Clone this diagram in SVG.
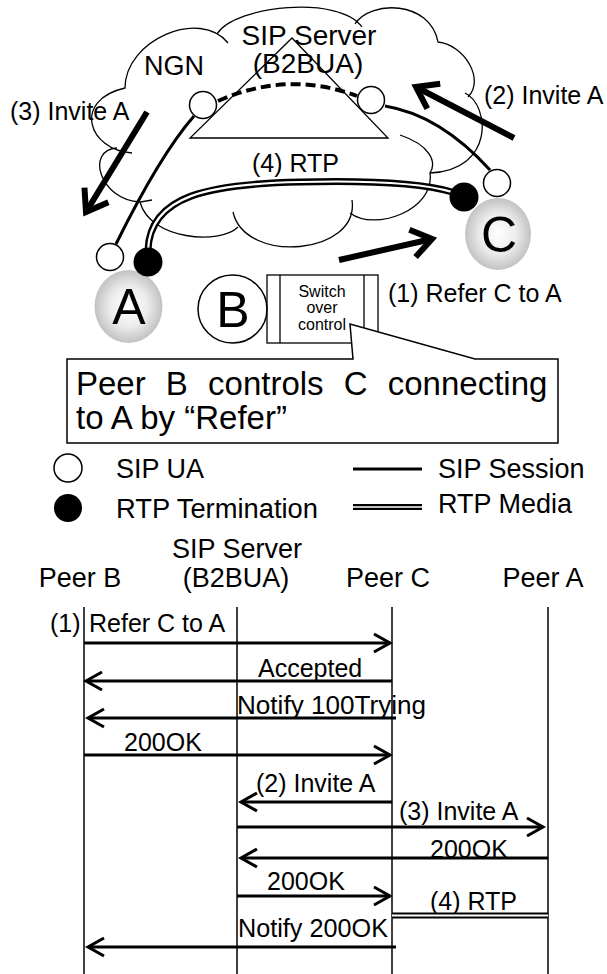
<svg xmlns="http://www.w3.org/2000/svg" width="607" height="974" viewBox="0 0 607 974">
<defs>
<style>
text{font-family:"Liberation Sans",Arial,sans-serif;fill:#000}
.t25{font-size:25px}
.t27{font-size:27px}
.t28{font-size:28px}
.t16{font-size:16px;text-anchor:middle}
.big{font-size:50px;text-anchor:middle}
.mid{text-anchor:middle}
.thin{fill:none;stroke:#000;stroke-width:1.3}
.sip{fill:none;stroke:#000;stroke-width:3}
.ua{fill:#fff;stroke:#000;stroke-width:1.5}
.rtp{fill:#000}
.life{stroke:#000;stroke-width:1.5}
.msg{fill:none;stroke:#000;stroke-width:3;marker-end:url(#ha)}
.bigarrow{fill:none;stroke:#000;stroke-width:6;marker-end:url(#hb)}
.dblo{fill:none;stroke:#000;stroke-width:7}
.dbli{fill:none;stroke:#fff;stroke-width:2.2}
.sph{fill:url(#sph)}
</style>
<radialGradient id="sph" cx="50%" cy="50%" r="50%">
<stop offset="0" stop-color="#ffffff"/>
<stop offset="0.55" stop-color="#ececec"/>
<stop offset="1" stop-color="#c2c2c2"/>
</radialGradient>
<marker id="ha" markerUnits="userSpaceOnUse" viewBox="-20 -12 22 24" refX="0" refY="0" markerWidth="22" markerHeight="24" orient="auto" overflow="visible">
<path d="M-16,-9 L0,0 L-16,9" fill="none" stroke="#000" stroke-width="3"/>
</marker>
<marker id="hb" markerUnits="userSpaceOnUse" viewBox="-26 -18 30 36" refX="0" refY="0" markerWidth="30" markerHeight="36" orient="auto" overflow="visible">
<path d="M-20,-14 L0,0 L-20,14" fill="none" stroke="#000" stroke-width="6"/>
</marker>
</defs>
<rect width="607" height="974" fill="#fff"/>

<g id="ngn-cloud">
<path class="thin" d="M132,153 C88,150 72,100 125,88 C125,40 200,8 228,43 M217,34 C235,5 340,-5 362,27 M355,24 C370,0 430,0 438,42 C465,45 485,80 468,97 M465,93 C490,105 495,170 430,173 C435,210 375,232 350,213 M400,135 C430,145 437,162 430,173 M352,200 C360,255 245,265 233,212 M238,227 C220,245 150,240 140,202 L152,200 M140,202 C100,200 85,150 117,148"/>
<text class="t27" x="144" y="75">NGN</text>
</g>

<g id="sip-server">
<polygon class="thin" points="292,38 190,138 388,138"/>
<text class="t28 mid" x="309" y="45">SIP Server</text>
<text class="t28 mid" x="308" y="73">(B2BUA)</text>
</g>

<g id="connectors">
<path class="sip" d="M194,116 Q160,155 116,244"/>
<path class="sip" d="M385,106 Q440,115 490,170"/>
<path d="M218,101 Q288,70 357,96" fill="none" stroke="#000" stroke-width="4" stroke-dasharray="10,5"/>
<path class="dblo" d="M148,250 C150,195 210,184 300,182 C380,180 425,184 452,192"/>
<path class="dbli" d="M148,250 C150,195 210,184 300,182 C380,180 425,184 452,192"/>
<line class="bigarrow" x1="147" y1="112" x2="86" y2="212"/>
<line class="bigarrow" x1="514" y1="138" x2="416" y2="87"/>
<line class="bigarrow" x1="339" y1="260" x2="432" y2="239"/>
</g>

<g id="labels-top">
<text class="t25" x="10" y="120">(3) Invite A</text>
<text class="t25" x="484" y="104">(2) Invite A</text>
<text class="t25" x="252" y="172">(4) RTP</text>
<text class="t25" x="388" y="302">(1) Refer C to A</text>
</g>

<g id="ua-server-left"><circle class="ua" cx="203" cy="105" r="13.5"/></g>
<g id="ua-server-right"><circle class="ua" cx="371" cy="100" r="13.5"/></g>

<g id="peer-a">
<ellipse class="sph" cx="128.5" cy="306.5" rx="34" ry="36.5"/>
<text class="big" x="129" y="324">A</text>
<circle class="ua" cx="110" cy="257" r="13.5"/>
<circle class="rtp" cx="148" cy="262" r="14.5"/>
</g>

<g id="peer-c">
<ellipse class="sph" cx="498" cy="234" rx="33" ry="36"/>
<text class="big" x="499" y="252">C</text>
<circle class="ua" cx="497" cy="183" r="13.5"/>
<circle class="rtp" cx="464" cy="197" r="14.5"/>
</g>

<g id="peer-b">
<ellipse fill="#fff" stroke="#000" stroke-width="1.5" cx="232.5" cy="309" rx="34.5" ry="34"/>
<text class="big" x="233" y="327">B</text>
</g>

<g id="switch-control">
<rect class="thin" x="267" y="275" width="111" height="68" fill="#fff"/>
<line class="thin" x1="280" y1="275" x2="280" y2="343"/>
<line class="thin" x1="364" y1="275" x2="364" y2="343"/>
<text class="t16" x="322" y="297">Switch</text>
<text class="t16" x="322" y="313">over</text>
<text class="t16" x="322" y="330">control</text>
</g>

<g id="callout">
<path d="M353,359 L67,359 L67,443 L558,443 L558,359 L475,359 L350,324 Z" fill="#fff" stroke="#000" stroke-width="1.5"/>
<text x="76" y="395" style="font-size:33px;word-spacing:11px">Peer B controls C connecting</text>
<text x="76" y="429" style="font-size:33px">to A by “Refer”</text>
</g>

<g id="legend">
<circle class="ua" cx="68" cy="468" r="14"/>
<text class="t27" x="116" y="478">SIP UA</text>
<circle class="rtp" cx="68" cy="508" r="14"/>
<text class="t27" x="116" y="518" textLength="202" lengthAdjust="spacingAndGlyphs">RTP Termination</text>
<line class="sip" x1="353" y1="469" x2="422" y2="469"/>
<text class="t27" x="438" y="478">SIP Session</text>
<line class="dblo" x1="353" y1="507" x2="422" y2="507" style="stroke-width:6"/>
<line class="dbli" x1="353" y1="507" x2="422" y2="507" style="stroke-width:1.5"/>
<text class="t27" x="438" y="513">RTP Media</text>
</g>

<g id="lifeline-peer-b">
<text class="t27 mid" x="80" y="587">Peer B</text>
<line class="life" x1="84" y1="607" x2="84" y2="974"/>
</g>
<g id="lifeline-server">
<text class="t27 mid" x="237" y="558">SIP Server</text>
<text class="t27 mid" x="236" y="587">(B2BUA)</text>
<line class="life" x1="237" y1="607" x2="237" y2="974"/>
</g>
<g id="lifeline-peer-c">
<text class="t27 mid" x="388" y="587">Peer C</text>
<line class="life" x1="392" y1="607" x2="392" y2="974"/>
</g>
<g id="lifeline-peer-a">
<text class="t27 mid" x="543" y="587">Peer A</text>
<line class="life" x1="548" y1="607" x2="548" y2="974"/>
</g>

<g id="messages">
<text class="t25" x="50" y="632">(1)</text>
<text class="t25" x="89" y="632">Refer C to A</text>
<line class="msg" x1="84" y1="643" x2="390" y2="643"/>
<text class="t25" x="258" y="677">Accepted</text>
<line class="msg" x1="392" y1="681" x2="86" y2="681"/>
<text class="t25" x="237" y="714" textLength="189" lengthAdjust="spacingAndGlyphs">Notify 100Trying</text>
<line class="msg" x1="396" y1="718" x2="88" y2="718"/>
<text class="t25" x="124" y="751">200OK</text>
<line class="msg" x1="84" y1="755" x2="390" y2="755"/>
<text class="t25" x="256" y="792">(2) Invite A</text>
<line class="msg" x1="392" y1="802" x2="241" y2="802"/>
<text class="t25" x="399" y="820">(3) Invite A</text>
<line class="msg" x1="237" y1="827" x2="543" y2="827"/>
<text class="t25" x="430" y="858">200OK</text>
<line class="msg" x1="548" y1="858" x2="241" y2="858"/>
<text class="t25" x="267" y="890">200OK</text>
<line class="msg" x1="237" y1="896" x2="390" y2="896"/>
<text class="t25" x="430" y="910">(4) RTP</text>
<line class="dblo" x1="392" y1="915.5" x2="548" y2="915.5" style="stroke-width:6"/>
<line class="dbli" x1="392" y1="915.5" x2="548" y2="915.5" style="stroke-width:1.8"/>
<text class="t25" x="238" y="937" textLength="150" lengthAdjust="spacingAndGlyphs">Notify 200OK</text>
<line class="msg" x1="396" y1="947" x2="88" y2="947"/>
</g>
</svg>
